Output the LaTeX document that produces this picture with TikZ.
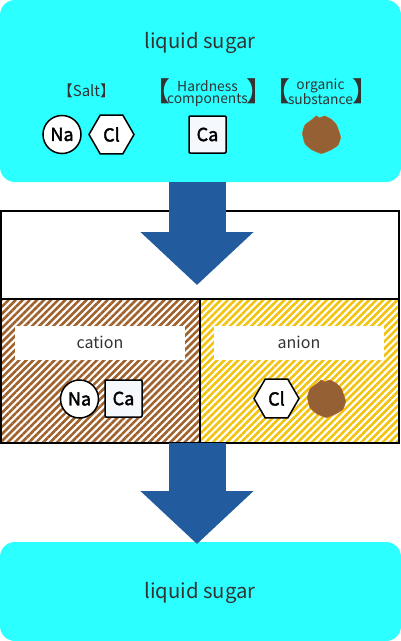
\documentclass[tikz,border=0pt]{standalone}
\usepackage{fontspec}
\setmainfont{Noto Sans CJK JP}
\newfontfamily\ionfont[FakeBold=2]{Noto Sans CJK JP}
\usetikzlibrary{arrows.meta,patterns.meta,shapes.geometric}
\definecolor{sgcyan}{RGB}{44,255,255}
\definecolor{sgblue}{RGB}{34,91,158}
\definecolor{sgink}{RGB}{51,51,51}
\definecolor{sgbrown}{RGB}{148,96,52}
\definecolor{sgrim}{RGB}{184,100,40}
\definecolor{sghatcha}{RGB}{160,98,45}
\definecolor{sghatchb}{RGB}{242,196,15}
\definecolor{sgpaper}{RGB}{245,249,253}
\tikzset{
  liquid/.style={
    fill=sgcyan, rounded corners=15pt, minimum width=401pt, inner sep=0pt
  },
  title/.style={font=\fontsize{20.3}{20}\selectfont, text=sgink, inner sep=0pt},
  group/.style={
    font=\fontsize{13.8}{12.8}\selectfont, text=sgink, align=center, inner sep=0pt
  },
  brace/.style={font=\fontsize{27}{27}\selectfont, text=sgink, inner sep=0pt},
  resin/.style={draw=black, line width=2pt, minimum height=143.5pt},
  tag/.style={
    fill=white, minimum width=170pt, minimum height=34pt, inner sep=0pt,
    font=\fontsize{16}{16}\selectfont, text=sgink
  },
  ion/.style={
    draw=black, line width=1.5pt, fill=white, inner sep=0pt,
    font=\ionfont\fontsize{18}{18}\selectfont, text=black
  },
  na/.style={ion, circle, minimum size=38pt},
  cl/.style={ion, regular polygon, regular polygon sides=6, minimum size=45pt},
  ca/.style={ion, fill=sgpaper, rounded corners=1pt, minimum size=37pt},
  flow/.style={
    draw=sgblue, line width=57pt, -{Triangle[length=53pt,width=110pt]}
  },
  pics/organic/.style={code={
    \fill[sgbrown, draw=sgrim, line width=0.5pt] plot[smooth cycle, tension=0.3] coordinates {
      (-5,-19) (-2,-17) (3,-19) (10,-15.5) (15,-10) (19,2) (16.5,10) (10,14.5)
      (0,18.5) (-10,14.5) (-16.5,8.5) (-19,-1.5) (-16.5,-10) (-10,-15)};
  }}
}
\begin{document}
\begin{tikzpicture}[x=1pt,y=-1pt]
  \useasboundingbox (0,0) rectangle (401,641);
  \fill[white] (0,0) rectangle (401,641);
  % upper and lower liquid
  \node[liquid, minimum height=182pt] (feed) at (200.5,91) {};
  \node[liquid, minimum height=99pt] (out) at (200.5,591.5) {};
  \node[title] (feedname) at (200,42.5) {liquid sugar};
  \node[title] (outname) at (200,592.5) {liquid sugar};
  \node[group, font=\fontsize{15}{15}\selectfont] (salt) at (86.5,90.5) {【Salt】};
  \node[group] (hard) at (207.5,93.5) {Hardness\\components};
  \node[group] (orga) at (320.5,92) {organic\\substance};
  \node[brace, anchor=east] (hardl) at (170.5,91) {【};
  \node[brace, anchor=west] (hardr) at (246,91) {】};
  \node[brace, anchor=east] (orgal) at (290.5,91) {【};
  \node[brace, anchor=west] (orgar) at (352.5,91) {】};
  \node[na] (na1) at (62,134.5) {Na};
  \node[cl] (cl1) at (111.5,134.5) {Cl};
  \node[ca] (ca1) at (207.5,134.5) {Ca};
  \pic at (321.5,135) {organic};
  % resin bed
  \draw[black, line width=2pt, fill=white] (1,211) rectangle (398.5,299);
  \node[resin, minimum width=199pt, pattern={Lines[angle=45,distance=5pt,line width=2.6pt]}, pattern color=sghatcha] (cat) at (100.5,370.75) {};
  \node[resin, minimum width=198.5pt, pattern={Lines[angle=45,distance=5pt,line width=2.6pt]}, pattern color=sghatchb] (ani) at (299.25,370.75) {};
  \node[tag] (catname) at (100,342.5) {cation};
  \node[tag] (aniname) at (299,342.5) {anion};
  \node[na] (na2) at (79.5,399) {Na};
  \node[ca] (ca2) at (123.5,398.5) {Ca};
  \node[cl] (cl2) at (276.5,398.5) {Cl};
  \pic at (326.5,399) {organic};
  % flow arrows
  \coordinate (s1) at (197,182);
  \coordinate (t1) at (197,285);
  \coordinate (s2) at (197,443);
  \coordinate (t2) at (197,544);
  \draw[flow] (s1) -- (t1);
  \draw[flow] (s2) -- (t2);
\end{tikzpicture}
\end{document}
